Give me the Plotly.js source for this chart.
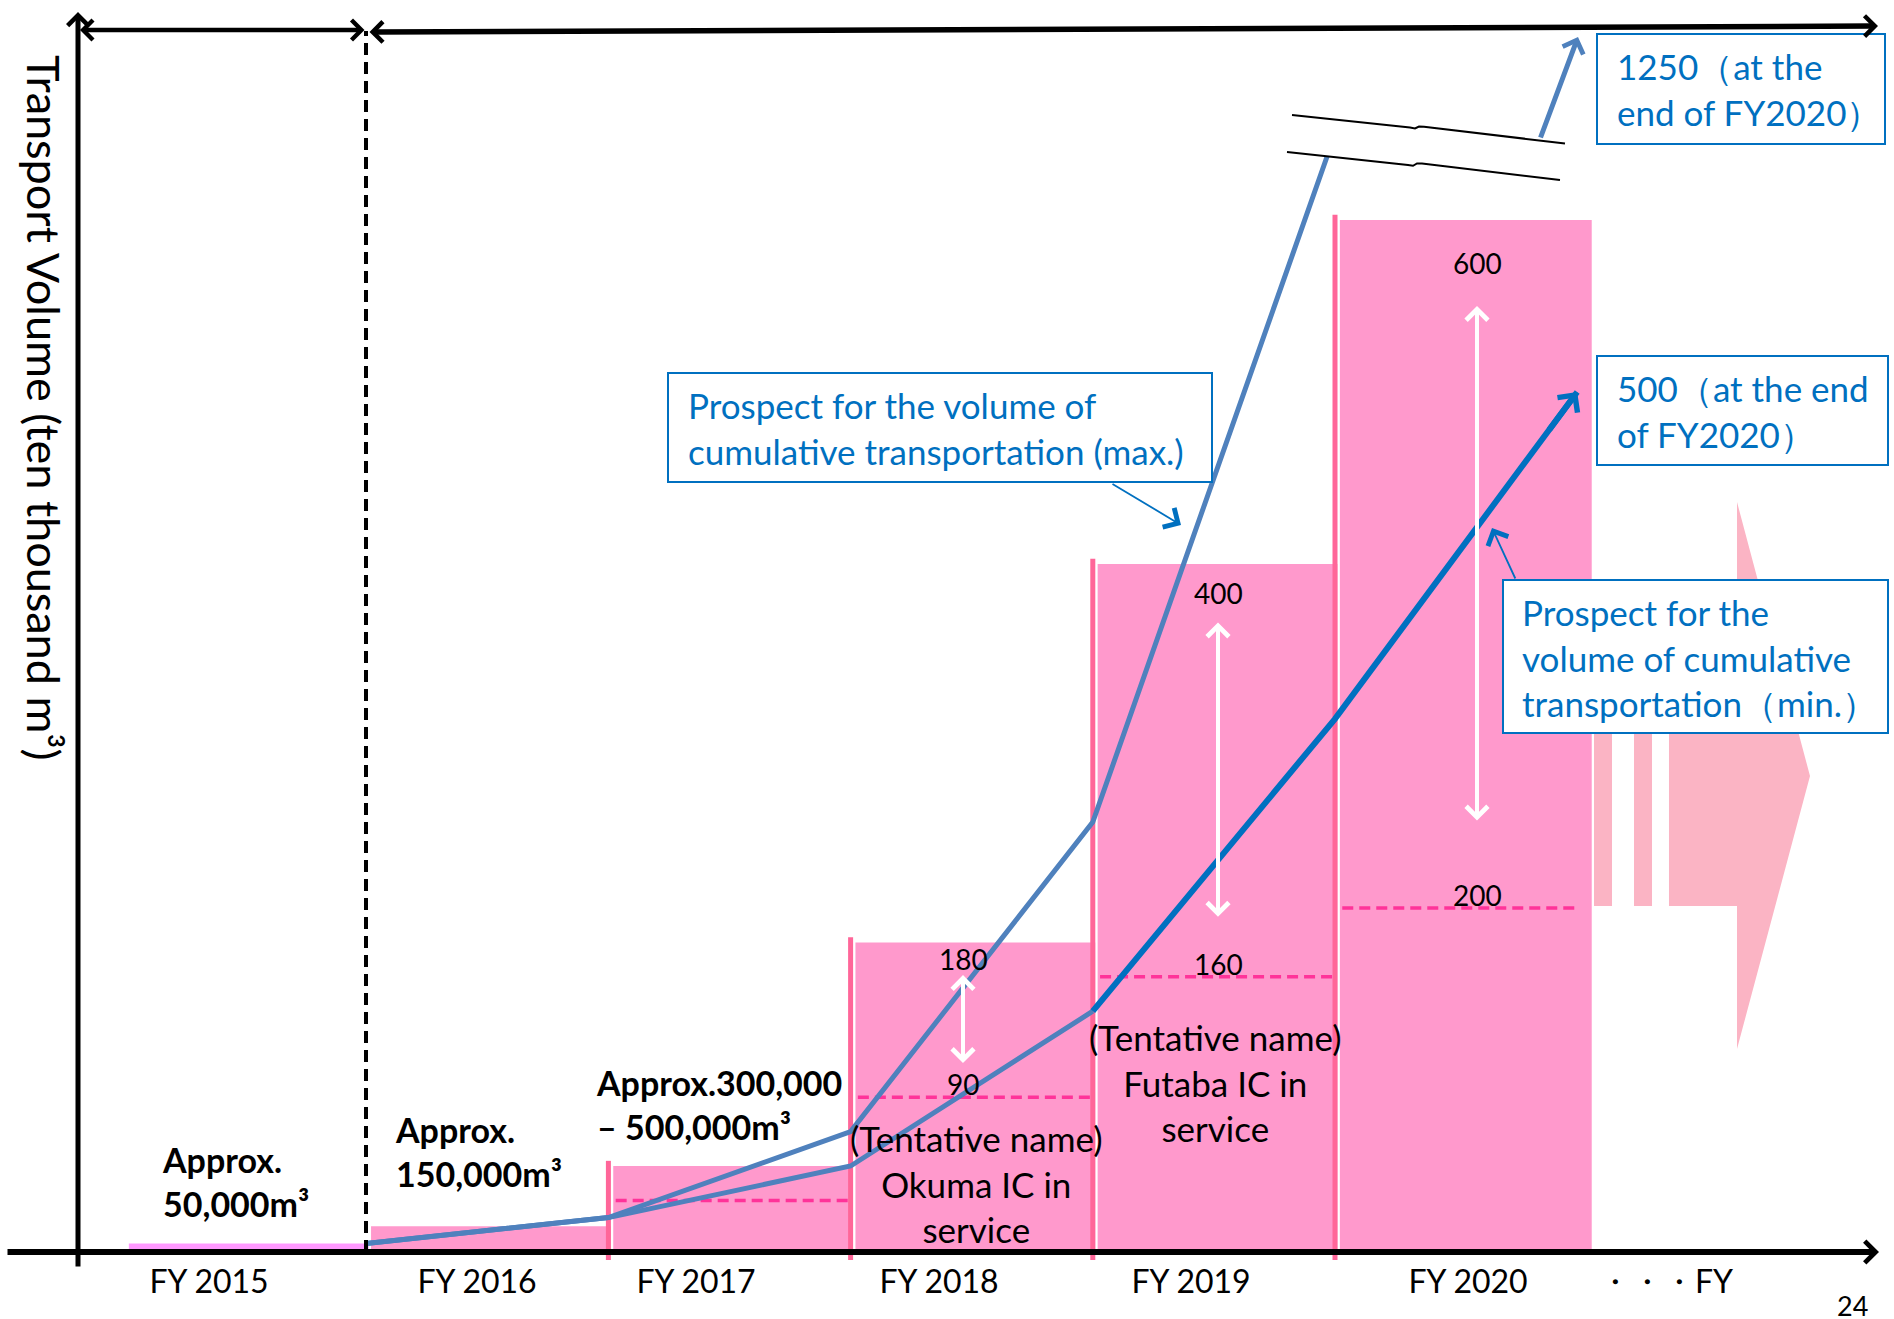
<!DOCTYPE html>
<html>
<head>
<meta charset="utf-8">
<script src="https://cdn.plot.ly/plotly-3.0.1.min.js"></script>
<style>
html,body{margin:0;padding:0;background:#ffffff;}
#chart{width:1894px;height:1319px;}
</style>
</head>
<body>
<div id="chart"></div>
<script>
// ---------------- DATA (unit: ten thousand m³) ----------------
const years = ['FY 2015', 'FY 2016', 'FY 2017', 'FY 2018', 'FY 2019', 'FY 2020'];
const tickLabels = ['FY 2015', 'FY 2016', 'FY 2017', 'FY 2018', 'FY 2019', 'FY 2020', '・・・FY'];
const annualMax = [5, 15, 50, 180, 400, 600];
const annualMin = [5, 15, 30, 90, 160, 200];
const cumulativeMax = [5, 20, 70, 250, 650, 1250];
const cumulativeMin = [5, 20, 50, 140, 310, 500];
const approxLabels = ['<b>Approx.<br>50,000m³</b>', '<b>Approx.<br>150,000m³</b>', '<b>Approx.300,000<br>– 500,000m³</b>'];
const icLabels = ['', '', '', '(Tentative name)<br>Okuma IC in<br>service', '(Tentative name)<br>Futaba IC in<br>service', ''];
const yTitle = 'Transport Volume (ten thousand m³)';
const maxBoxText = 'Prospect for the volume of<br>cumulative transportation (max.)';
const minBoxText = 'Prospect for the<br>volume of cumulative<br>transportation（min.）';
const endMaxText = cumulativeMax[5] + '（at the<br>end of FY2020）';
const endMinText = cumulativeMin[5] + '（at the end<br>of FY2020）';
const pageNo = '24';

// ---------------- LAYOUT HELPERS (pixel -> axis units) ----------------
const W = 1894, H = 1319, MB = 59;
const PX0 = 124, PXU = 242.2, PY0 = 1252, PYU = 1.72;
const X = px => (px - PX0) / PXU;
const Y = py => (PY0 - py) / PYU;
const PAPX = px => px / W;
const PAPY = py => (H - MB - py) / (H - MB);

const FONT = 'Lato, "Liberation Sans", Arial, sans-serif';
const BLUE = '#0070C0', LBLUE = '#4F81BD';
const tickPx = [209, 477, 696, 939, 1191, 1468, 1666];
const arrowPx = [null, null, null, 963, 1218, 1477];
const approxPx = [[160, 1181], [393, 1151], [594, 1104]];
const icPx = [null, null, null, [976, 1183], [1215, 1082], null];

const idx = years.map((_, i) => i);
const ranged = idx.filter(i => annualMin[i] < annualMax[i]);
const last = years.length - 1;

// ---------------- TRACES ----------------
const traces = [];
traces.push({
  type: 'bar', x: idx.map(i => i === last ? i + 0.54 : i + 0.515), y: annualMax,
  width: idx.map(i => i === last ? 1.04 : 0.99),
  marker: {color: idx.map(i => i === 0 ? '#FF99FF' : '#FF99CC'), line: {width: 0}},
  hoverinfo: 'skip', showlegend: false
});
ranged.forEach(i => {
  traces.push({type: 'scatter', mode: 'lines', x: [i, i], y: [-6, annualMax[i] + 3],
    line: {color: '#FF6699', width: 5}, hoverinfo: 'skip', showlegend: false});
});
ranged.forEach(i => {
  traces.push({type: 'scatter', mode: 'lines', x: [i + 0.03, i + 0.99], y: [annualMin[i], annualMin[i]],
    line: {color: '#FF3399', width: 3.5, dash: '11px,6px'}, hoverinfo: 'skip', showlegend: false});
});
const yearEnd = idx.map(i => i + 1);
traces.push({type: 'scatter', mode: 'lines', x: yearEnd.slice(0, 5), y: cumulativeMax.slice(0, 5),
  line: {color: LBLUE, width: 5}, hoverinfo: 'skip', showlegend: false});
traces.push({type: 'scatter', mode: 'lines', x: yearEnd.slice(0, 4), y: cumulativeMin.slice(0, 4),
  line: {color: LBLUE, width: 5}, hoverinfo: 'skip', showlegend: false});
traces.push({type: 'scatter', mode: 'lines', x: yearEnd.slice(3), y: cumulativeMin.slice(3),
  line: {color: BLUE, width: 6}, hoverinfo: 'skip', showlegend: false});

// ---------------- SHAPES ----------------
const path = pts => 'M' + pts.map(p => X(p[0]).toFixed(4) + ',' + Y(p[1]).toFixed(3)).join('L');
const upperBreak = [[1292, 115], [1410, 127.5], [1415, 128.5], [1419, 126.5], [1424, 126.8], [1565, 143.5]];
const lowerBreak = [[1287, 152], [1408, 165], [1413, 165.8], [1417, 163.5], [1422, 163.6], [1560, 180]];
const shapes = [];
// big pink arrow
shapes.push({type: 'path', xref: 'x', yref: 'y', layer: 'below', fillcolor: '#FBB4C4', line: {width: 0},
  path: path([[1594, 648], [1612, 648], [1612, 906], [1594, 906]]) + 'Z'});
shapes.push({type: 'path', xref: 'x', yref: 'y', layer: 'below', fillcolor: '#FBB4C4', line: {width: 0},
  path: path([[1634, 648], [1652, 648], [1652, 906], [1634, 906]]) + 'Z'});
shapes.push({type: 'path', xref: 'x', yref: 'y', layer: 'below', fillcolor: '#FBB4C4', line: {width: 0},
  path: path([[1669, 648], [1737, 648], [1737, 502], [1810, 776], [1737, 1049], [1737, 906], [1669, 906]]) + 'Z'});
// black dashed divider
shapes.push({type: 'line', xref: 'x', yref: 'y', layer: 'above', x0: X(366), x1: X(366), y0: 0, y1: Y(31),
  line: {color: '#000', width: 4, dash: '12px,7px'}});
// axis break band
shapes.push({type: 'path', xref: 'x', yref: 'y', layer: 'above', fillcolor: '#fff', line: {width: 0},
  path: path(upperBreak.concat(lowerBreak.slice().reverse())) + 'Z'});
shapes.push({type: 'path', xref: 'x', yref: 'y', layer: 'above', line: {color: '#000', width: 2}, path: path(upperBreak)});
shapes.push({type: 'path', xref: 'x', yref: 'y', layer: 'above', line: {color: '#000', width: 2}, path: path(lowerBreak)});
// callout boxes
const box = (x0, y0, x1, y1) => ({type: 'rect', xref: 'x', yref: 'y', layer: 'above',
  x0: X(x0), x1: X(x1), y0: Y(y0), y1: Y(y1), fillcolor: '#fff', line: {color: BLUE, width: 2}});
shapes.push(box(668, 373, 1212, 482));
shapes.push(box(1597, 34, 1885, 144));
shapes.push(box(1597, 356, 1888, 465));
shapes.push(box(1503, 580, 1888, 733));

// ---------------- ANNOTATIONS ----------------
const ann = [];
function arrow(x0, y0, x1, y1, o) {
  return Object.assign({x: x1, y: y1, ax: x0, ay: y0, xref: 'x', yref: 'y', axref: 'x', ayref: 'y',
    text: '', showarrow: true, arrowhead: 4, arrowsize: 1, arrowwidth: 2, arrowcolor: '#000',
    standoff: 0, startstandoff: 0}, o || {});
}
const dbl = {arrowside: 'end+start', startarrowhead: 4};
// axes
ann.push(arrow(X(78), Y(1268), X(78), Y(12), {arrowwidth: 5, arrowsize: 0.8}));
ann.push(arrow(X(6), 0, X(1879), 0, {arrowwidth: 6, arrowsize: 0.7}));
ann.push(arrow(X(366), Y(30), X(80), Y(30), Object.assign({arrowwidth: 4.5, arrowsize: 0.85, startarrowsize: 0.85}, dbl)));
ann.push(arrow(X(368), Y(32), X(1878), Y(26), Object.assign({arrowwidth: 5.5, arrowsize: 0.72, startarrowsize: 0.72}, dbl)));
// off-scale continuation of the max line to its end value
ann.push(arrow(X(1540), Y(139), X(1578), Y(37), {arrowwidth: 5, arrowcolor: LBLUE, arrowsize: 0.85}));
// arrowhead at the end of the min line
ann.push(arrow(yearEnd[5] - 0.12, cumulativeMin[5] - 0.12 * (cumulativeMin[5] - cumulativeMin[4]),
  yearEnd[5], cumulativeMin[5], {arrowwidth: 6, arrowcolor: BLUE, arrowsize: 0.8}));
// white range arrows and their numbers
ranged.filter(i => arrowPx[i]).forEach(i => {
  const ax = X(arrowPx[i]);
  const pad = 0.1 * (annualMax[i] - annualMin[i]) + 10;
  ann.push(arrow(ax, annualMin[i] + pad, ax, annualMax[i] - pad,
    Object.assign({arrowwidth: 4, arrowcolor: '#fff', arrowsize: 1.05, startarrowsize: 1.05}, dbl)));
  ann.push({x: ax, y: annualMax[i] - 0.5 * pad, xref: 'x', yref: 'y', text: String(annualMax[i]), showarrow: false,
    yanchor: 'middle', font: {family: FONT, size: 28, color: '#000'}});
  ann.push({x: ax, y: annualMin[i], xref: 'x', yref: 'y', text: String(annualMin[i]), showarrow: false,
    yanchor: 'bottom', yshift: -6, font: {family: FONT, size: 28, color: '#000'}});
});
// pointers from callouts
ann.push(arrow(X(1111), Y(483), X(1181), Y(525), {arrowwidth: 1.8, arrowcolor: BLUE, arrowsize: 2.4}));
ann.push(arrow(X(1516), Y(580), X(1492), Y(528), {arrowwidth: 1.8, arrowcolor: BLUE, arrowsize: 2.4}));
// approx. volume labels
approxLabels.forEach((t, i) => {
  ann.push({x: X(approxPx[i][0]), y: Y(approxPx[i][1]), xref: 'x', yref: 'y', text: t, showarrow: false,
    xanchor: 'left', yanchor: 'middle', align: 'left', font: {family: FONT, size: 34, color: '#000'}});
});
// IC labels
icLabels.forEach((t, i) => {
  if (!t) return;
  ann.push({x: X(icPx[i][0]), y: Y(icPx[i][1]), xref: 'x', yref: 'y', text: t, showarrow: false,
    xanchor: 'center', yanchor: 'middle', align: 'center', font: {family: FONT, size: 35, color: '#000'}});
});
// callout texts
const boxText = (t, px, pyc) => ({x: X(px), y: Y(pyc), xref: 'x', yref: 'y', text: t, showarrow: false,
  xanchor: 'left', yanchor: 'middle', align: 'left', font: {family: FONT, size: 35, color: BLUE}});
ann.push(boxText(maxBoxText, 686, 428));
ann.push(boxText(endMaxText, 1615, 89));
ann.push(boxText(endMinText, 1615, 411));
ann.push(boxText(minBoxText, 1520, 657));
// y title
ann.push({x: X(44), y: Y(408), xref: 'x', yref: 'y', text: yTitle, showarrow: false, textangle: 90,
  xanchor: 'center', yanchor: 'middle', font: {family: FONT, size: 45, color: '#000'}});
// page number
ann.push({x: PAPX(1852), y: PAPY(1305), xref: 'paper', yref: 'paper', text: pageNo, showarrow: false,
  xanchor: 'center', yanchor: 'middle', font: {family: FONT, size: 27, color: '#000'}});

const layout = {
  width: W, height: H,
  margin: {l: 0, r: 0, t: 0, b: MB, pad: 0},
  paper_bgcolor: '#fff', plot_bgcolor: '#fff',
  showlegend: false, barmode: 'overlay',
  xaxis: {range: [X(0), X(W)], showgrid: false, zeroline: false, showline: false, ticks: '',
    tickmode: 'array', tickvals: tickPx.map(X), ticktext: tickLabels, tickangle: 0,
    tickfont: {family: FONT, size: 32, color: '#000'}, fixedrange: true, automargin: false},
  yaxis: {range: [Y(H - MB), Y(0)], visible: false, fixedrange: true},
  shapes: shapes,
  annotations: ann
};
Plotly.newPlot('chart', traces, layout, {staticPlot: true, displayModeBar: false});
</script>
</body>
</html>
